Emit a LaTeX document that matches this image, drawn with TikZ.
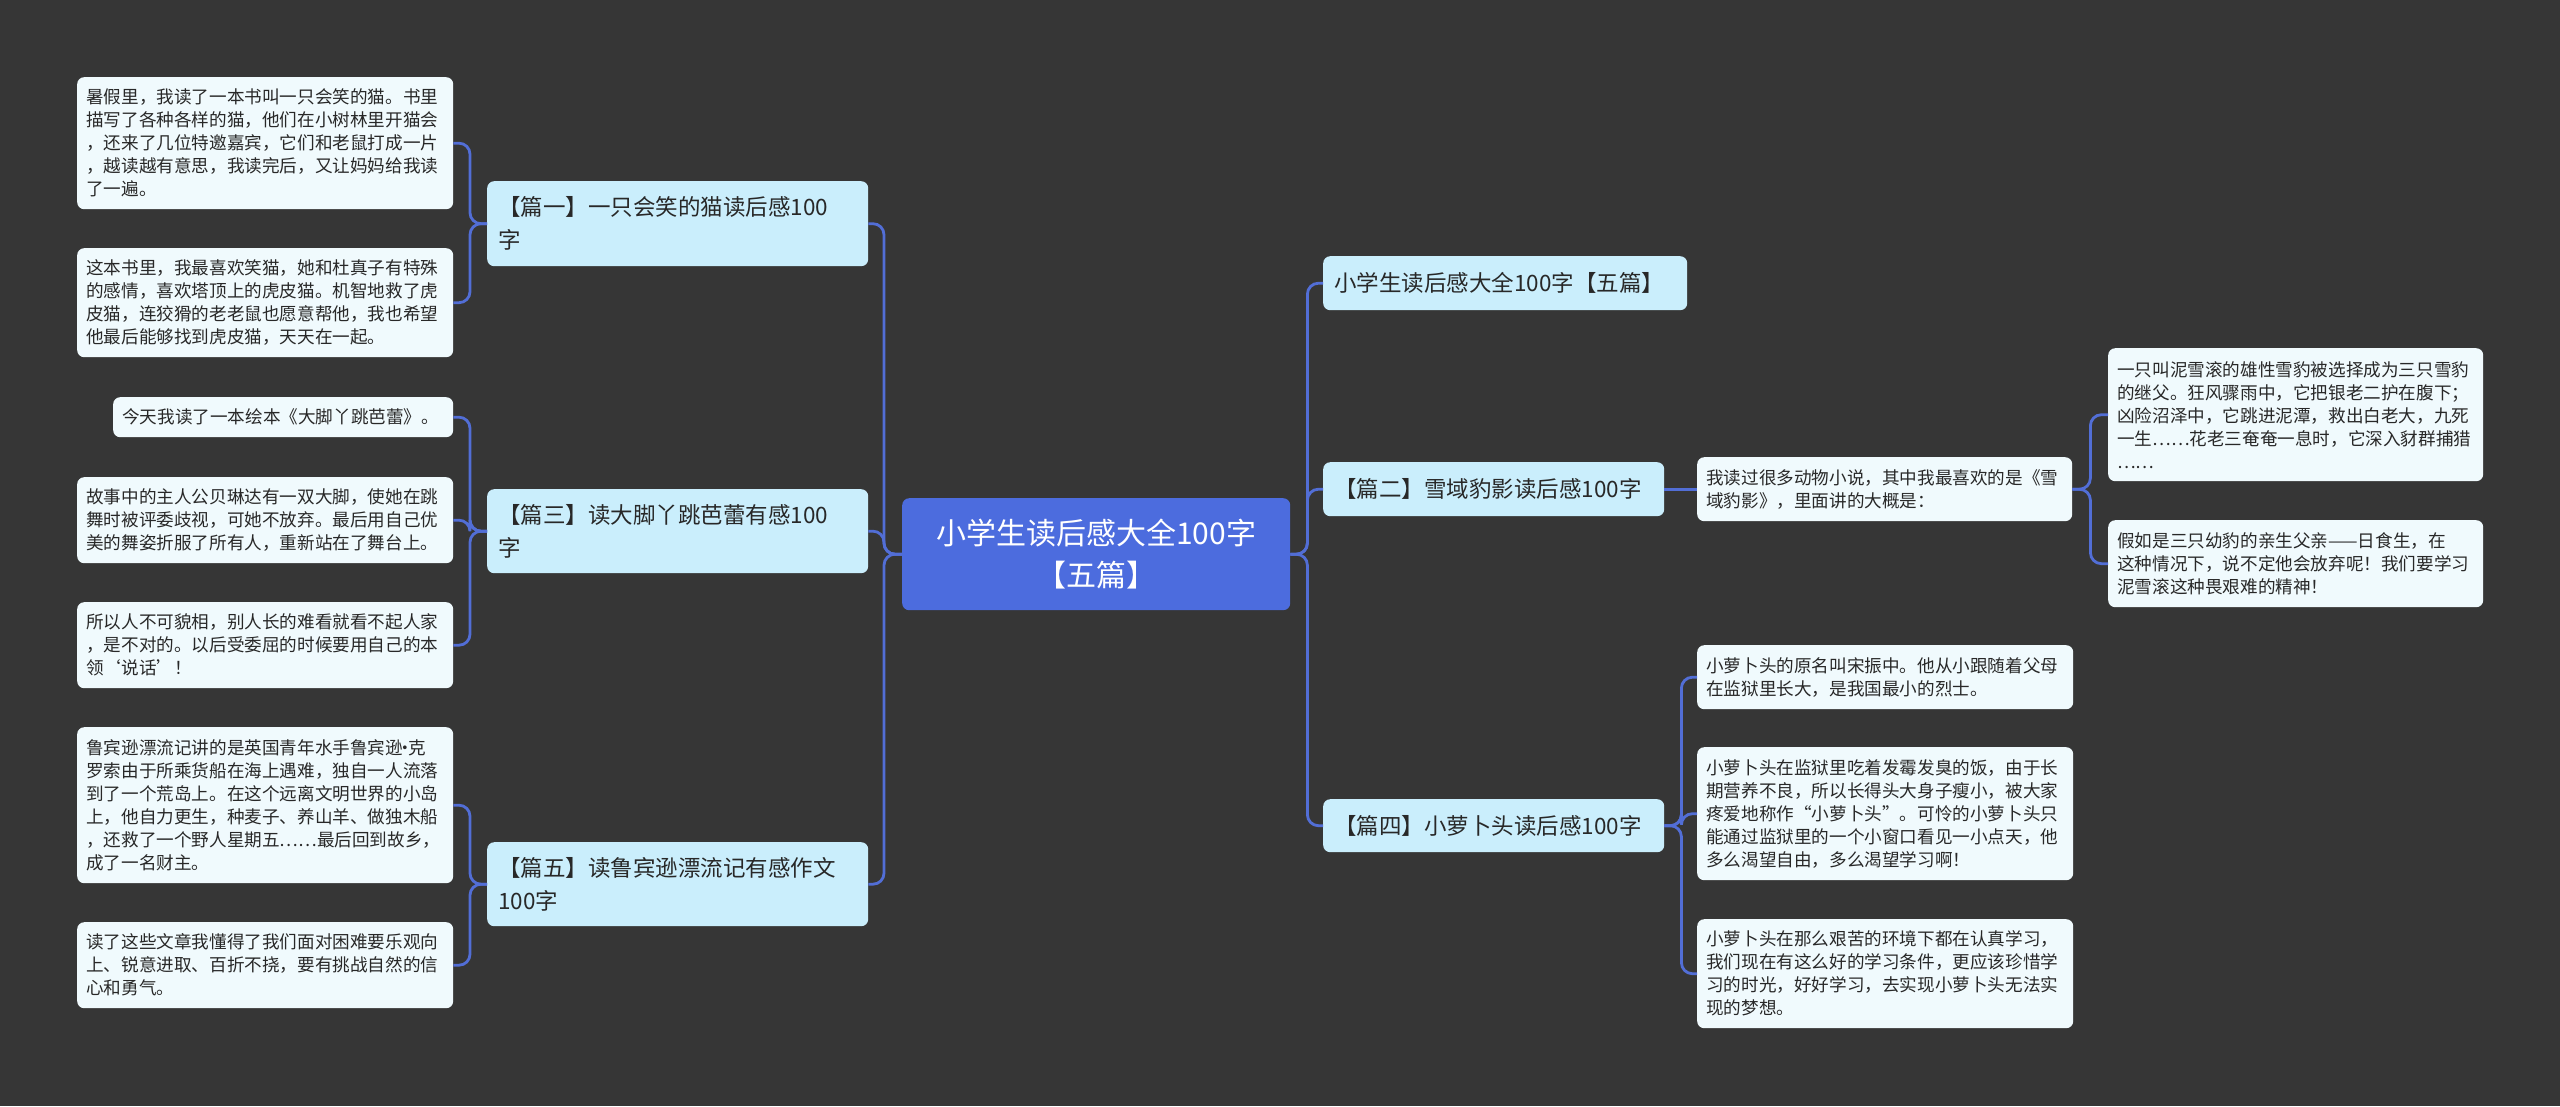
\documentclass[tikz,border=0pt]{standalone}
\usepackage{fontspec}
\setmainfont{Noto Sans CJK SC}
\definecolor{bgc}{RGB}{54,54,54}
\definecolor{centerc}{RGB}{76,108,222}
\definecolor{lvlc}{RGB}{202,238,252}
\definecolor{leafc}{RGB}{240,250,253}
\definecolor{linec}{RGB}{82,110,214}
\definecolor{txtc}{RGB}{40,40,40}
\newcommand{\narrowdot}{\hbox to 0.3em{\hss·\hss}}
\begin{document}
\begin{tikzpicture}[x=1pt,y=-1pt,
  base/.style={anchor=north west, rounded corners=7pt, text=txtc, inner ysep=0pt},
  leaf/.style={base, fill=leafc, align=left, inner xsep=9pt,
    font=\fontsize{17.6}{23}\selectfont, text width=#1},
  lvl/.style={base, fill=lvlc, align=left, inner xsep=11pt,
    font=\fontsize{22.5}{33}\selectfont, text width=#1},
  hub/.style={base, fill=centerc, text=white, align=center,
    font=\fontsize{30}{42}\selectfont, minimum width=388pt, minimum height=112pt},
  conn/.style={draw=linec, line width=2.8pt, rounded corners=11pt}
]
\fill[bgc] (0,0) rectangle (2560,1106);
\useasboundingbox (0,0) rectangle (2560,1106);

% center
\node[hub] (c) at (902,498) {小学生读后感大全100字\\【五篇】};

% level 1 left
\node[lvl=359pt, minimum height=85pt] (p1) at (487,181) {【篇一】一只会笑的猫读后感100\\字};
\node[lvl=359pt, minimum height=84pt] (p3) at (487,489) {【篇三】读大脚丫跳芭蕾有感100\\字};
\node[lvl=359pt, minimum height=84pt] (p5) at (487,842) {【篇五】读鲁宾逊漂流记有感作文\\100字};

% level 1 right
\node[lvl=342pt, minimum height=54pt] (r0) at (1323,256) {小学生读后感大全100字【五篇】};
\node[lvl=319pt, minimum height=54pt] (p2) at (1323,462) {【篇二】雪域豹影读后感100字};
\node[lvl=319pt, minimum height=53pt] (p4) at (1323,799) {【篇四】小萝卜头读后感100字};

% leaves of p1
\node[leaf=358pt, minimum height=132pt] (l1a) at (77,77) {暑假里，我读了一本书叫一只会笑的猫。书里\\描写了各种各样的猫，他们在小树林里开猫会\\，还来了几位特邀嘉宾，它们和老鼠打成一片\\，越读越有意思，我读完后，又让妈妈给我读\\了一遍。};
\node[leaf=358pt, minimum height=109pt] (l1b) at (77,248) {这本书里，我最喜欢笑猫，她和杜真子有特殊\\的感情，喜欢塔顶上的虎皮猫。机智地救了虎\\皮猫，连狡猾的老老鼠也愿意帮他，我也希望\\他最后能够找到虎皮猫，天天在一起。};

% leaves of p3
\node[leaf=322pt, minimum height=40pt] (l3a) at (113,397) {今天我读了一本绘本《大脚丫跳芭蕾》。};
\node[leaf=358pt, minimum height=86pt] (l3b) at (77,477) {故事中的主人公贝琳达有一双大脚，使她在跳\\舞时被评委歧视，可她不放弃。最后用自己优\\美的舞姿折服了所有人，重新站在了舞台上。};
\node[leaf=358pt, minimum height=86pt] (l3c) at (77,602) {所以人不可貌相，别人长的难看就看不起人家\\，是不对的。以后受委屈的时候要用自己的本\\领‘说话’！};

% leaves of p5
\node[leaf=358pt, minimum height=156pt] (l5a) at (77,727) {鲁宾逊漂流记讲的是英国青年水手鲁宾逊\narrowdot 克\\罗索由于所乘货船在海上遇难，独自一人流落\\到了一个荒岛上。在这个远离文明世界的小岛\\上，他自力更生，种麦子、养山羊、做独木船\\，还救了一个野人星期五……最后回到故乡，\\成了一名财主。};
\node[leaf=358pt, minimum height=86pt] (l5b) at (77,922) {读了这些文章我懂得了我们面对困难要乐观向\\上、锐意进取、百折不挠，要有挑战自然的信\\心和勇气。};

% p2 branch
\node[leaf=357pt, minimum height=64pt] (r2m) at (1697,457) {我读过很多动物小说，其中我最喜欢的是《雪\\域豹影》，里面讲的大概是：};
\node[leaf=357pt, minimum height=133pt] (r2a) at (2108,348) {一只叫泥雪滚的雄性雪豹被选择成为三只雪豹\\的继父。狂风骤雨中，它把银老二护在腹下；\\凶险沼泽中，它跳进泥潭，救出白老大，九死\\一生……花老三奄奄一息时，它深入豺群捕猎\\……};
\node[leaf=357pt, minimum height=87pt] (r2b) at (2108,520) {假如是三只幼豹的亲生父亲——日食生，在\\这种情况下，说不定他会放弃呢！我们要学习\\泥雪滚这种畏艰难的精神！};

% p4 branch
\node[leaf=358pt, minimum height=64pt] (r4a) at (1697,645) {小萝卜头的原名叫宋振中。他从小跟随着父母\\在监狱里长大，是我国最小的烈士。};
\node[leaf=358pt, minimum height=133pt] (r4b) at (1697,747) {小萝卜头在监狱里吃着发霉发臭的饭，由于长\\期营养不良，所以长得头大身子瘦小，被大家\\疼爱地称作“小萝卜头”。可怜的小萝卜头只\\能通过监狱里的一个小窗口看见一小点天，他\\多么渴望自由，多么渴望学习啊！};
\node[leaf=358pt, minimum height=109pt] (r4c) at (1697,919) {小萝卜头在那么艰苦的环境下都在认真学习，\\我们现在有这么好的学习条件，更应该珍惜学\\习的时光，好好学习，去实现小萝卜头无法实\\现的梦想。};

% connectors: center to level 1
\foreach \t in {p1,p3,p5}
  \draw[conn] (c.west) -- ++(-18,0) |- (\t.east);
\foreach \t in {r0,p2,p4}
  \draw[conn] (c.east) -- ++(17,0) |- (\t.west);

% level 1 to leaves
\foreach \t in {l1a,l1b}
  \draw[conn] (p1.west) -- ++(-17,0) |- (\t.east);
\foreach \t in {l3a,l3b,l3c}
  \draw[conn] (p3.west) -- ++(-17,0) |- (\t.east);
\foreach \t in {l5a,l5b}
  \draw[conn] (p5.west) -- ++(-17,0) |- (\t.east);
\draw[conn] (p2.east) -- (r2m.west);
\foreach \t in {r2a,r2b}
  \draw[conn] (r2m.east) -- ++(18,0) |- (\t.west);
\foreach \t in {r4a,r4b,r4c}
  \draw[conn] (p4.east) -- ++(17,0) |- (\t.west);
\end{tikzpicture}
\end{document}
